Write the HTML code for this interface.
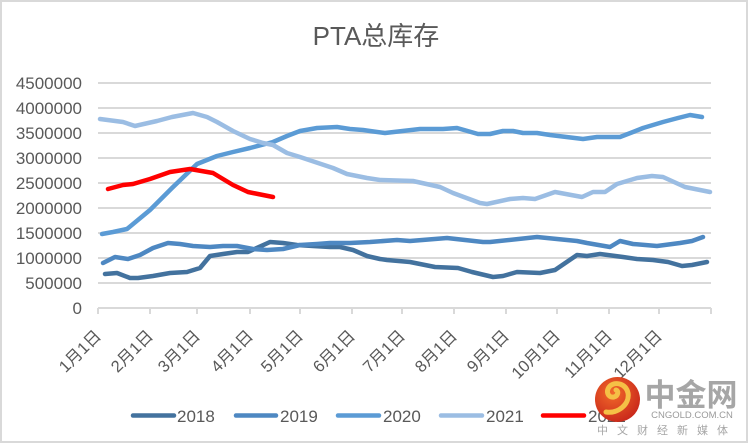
<!DOCTYPE html>
<html><head><meta charset="utf-8">
<style>
html,body{margin:0;padding:0;background:#fff;}
svg{display:block;}
text{font-family:"Liberation Sans","Noto Sans CJK SC",sans-serif;fill:#595959;}
</style></head>
<body>
<svg width="752" height="447" viewBox="0 0 752 447" xmlns="http://www.w3.org/2000/svg">
<defs>
<radialGradient id="lg" cx="40%" cy="35%" r="70%">
<stop offset="0" stop-color="#f26a2a"/>
<stop offset="1" stop-color="#c8261a"/>
</radialGradient>
</defs>
<rect x="0" y="0" width="752" height="447" fill="#fff"/>
<rect x="1" y="1" width="746" height="441" fill="none" stroke="#d9d9d9" stroke-width="2"/>

<text x="376" y="45" font-size="26" text-anchor="middle">PTA总库存</text>

<g stroke="#d9d9d9" stroke-width="2">
<line x1="98" y1="83" x2="711" y2="83"/>
<line x1="98" y1="108" x2="711" y2="108"/>
<line x1="98" y1="133" x2="711" y2="133"/>
<line x1="98" y1="158" x2="711" y2="158"/>
<line x1="98" y1="183" x2="711" y2="183"/>
<line x1="98" y1="208" x2="711" y2="208"/>
<line x1="98" y1="233" x2="711" y2="233"/>
<line x1="98" y1="258" x2="711" y2="258"/>
<line x1="98" y1="283" x2="711" y2="283"/>
<line x1="98" y1="308" x2="711" y2="308"/>
<line x1="98" y1="308" x2="98" y2="314"/>
<line x1="150" y1="308" x2="150" y2="314"/>
<line x1="197" y1="308" x2="197" y2="314"/>
<line x1="250" y1="308" x2="250" y2="314"/>
<line x1="300" y1="308" x2="300" y2="314"/>
<line x1="352" y1="308" x2="352" y2="314"/>
<line x1="402" y1="308" x2="402" y2="314"/>
<line x1="454" y1="308" x2="454" y2="314"/>
<line x1="506" y1="308" x2="506" y2="314"/>
<line x1="557" y1="308" x2="557" y2="314"/>
<line x1="609" y1="308" x2="609" y2="314"/>
<line x1="659" y1="308" x2="659" y2="314"/>
<line x1="711" y1="308" x2="711" y2="314"/>
</g>

<g font-size="17" text-anchor="end">
<text x="82" y="89">4500000</text>
<text x="82" y="114">4000000</text>
<text x="82" y="139">3500000</text>
<text x="82" y="164">3000000</text>
<text x="82" y="189">2500000</text>
<text x="82" y="214">2000000</text>
<text x="82" y="239">1500000</text>
<text x="82" y="264">1000000</text>
<text x="82" y="289">500000</text>
<text x="82" y="314">0</text>
</g>

<g font-size="16.5" text-anchor="end">
<text transform="translate(102,337) rotate(-45)">1月1日</text>
<text transform="translate(154,337) rotate(-45)">2月1日</text>
<text transform="translate(201,337) rotate(-45)">3月1日</text>
<text transform="translate(254,337) rotate(-45)">4月1日</text>
<text transform="translate(304,337) rotate(-45)">5月1日</text>
<text transform="translate(356,337) rotate(-45)">6月1日</text>
<text transform="translate(406,337) rotate(-45)">7月1日</text>
<text transform="translate(458,337) rotate(-45)">8月1日</text>
<text transform="translate(510,337) rotate(-45)">9月1日</text>
<text transform="translate(561,337) rotate(-45)">10月1日</text>
<text transform="translate(613,337) rotate(-45)">11月1日</text>
<text transform="translate(663,337) rotate(-45)">12月1日</text>
</g>

<g fill="none" stroke-width="4.5" stroke-linejoin="round" stroke-linecap="round">
<polyline stroke="#43729e" points="105,274 117,273 130,278 138,278 153,276 170,273 187,272 200,268 210,256 223,254 237,252 248,252 270,242 283,243 297,245 313,246 330,247 340,247 353,250 367,256 380,259 387,260 410,262 435,267 458,268 472,272 493,277 503,276 517,272 540,273 555,270 577,255 587,256 600,254 623,257 637,259 653,260 668,262 682,266 692,265 707,262"/>
<polyline stroke="#4e88c2" points="103,263 115,257 128,259 140,255 153,248 168,243 180,244 193,246 210,247 223,246 237,246 253,249 267,250 283,249 300,245 317,244 330,243 350,243 370,242 397,240 410,241 447,238 483,242 490,242 537,237 557,239 577,241 587,243 610,247 620,241 633,244 657,246 680,243 692,241 703,237"/>
<polyline stroke="#5b9bd5" points="102,234 113,232 127,229 150,210 172,188 197,164 217,156 233,152 250,148 273,142 287,136 300,131 317,128 337,127 350,129 363,130 370,131 385,133 420,129 443,129 457,128 478,134 490,134 503,131 513,131 523,133 537,133 550,135 583,139 597,137 620,137 633,132 643,128 653,125 663,122 678,118 690,115 702,117"/>
<polyline stroke="#9bbde3" points="100,119 123,122 135,126 157,121 172,117 193,113 207,117 217,122 233,131 250,139 263,143 273,145 287,153 300,157 333,168 347,174 367,178 380,180 413,181 440,187 453,193 480,203 487,204 510,199 523,198 535,199 555,192 582,197 593,192 605,192 617,184 637,178 652,176 663,177 685,187 710,192"/>
<polyline stroke="#ff0000" points="108,189 123,185 133,184 150,179 170,172 190,169 213,173 233,185 248,192 258,194 273,197"/>
</g>

<g stroke-width="4.5" stroke-linecap="round">
<line x1="133" y1="415.5" x2="174" y2="415.5" stroke="#43729e"/>
<line x1="236" y1="415.5" x2="276" y2="415.5" stroke="#4e88c2"/>
<line x1="338" y1="415.5" x2="379" y2="415.5" stroke="#5b9bd5"/>
<line x1="441" y1="415.5" x2="482" y2="415.5" stroke="#9bbde3"/>
<line x1="543" y1="415.5" x2="584" y2="415.5" stroke="#ff0000"/>
</g>
<g font-size="17">
<text x="177" y="422">2018</text>
<text x="280" y="422">2019</text>
<text x="383" y="422">2020</text>
<text x="486" y="422">2021</text>
<text x="588" y="422">2022</text>
</g>

<!-- watermark -->
<circle cx="617.5" cy="399.5" r="22.5" fill="url(#lg)"/>
<path d="M606,412 C618,414 630,404 628,393 C626,384 616,381 610,386 C605,391 608,398 614,397 C618,396 619,391 616,390" fill="none" stroke="#f5c046" stroke-width="5" stroke-linecap="round"/>
<text x="691" y="406" font-size="31" font-weight="bold" text-anchor="middle" style="fill:#a6a6a6">中金网</text>
<text x="692" y="418" font-size="9.5" text-anchor="middle" style="fill:#9a9a9a">CNGOLD.COM.CN</text>
<text x="667" y="434" font-size="11" text-anchor="middle" letter-spacing="9" style="fill:#a6a6a6">中文财经新媒体</text>
</svg>
</body></html>
